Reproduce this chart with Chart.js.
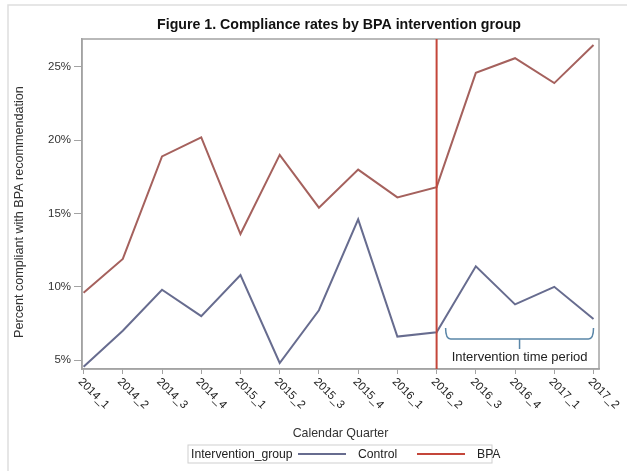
<!DOCTYPE html>
<html>
<head>
<meta charset="utf-8">
<title>Figure 1. Compliance rates by BPA intervention group</title>
<script src="https://cdn.jsdelivr.net/npm/chart.js@4.4.1/dist/chart.umd.min.js"></script>
<style>
    html, body { margin: 0; padding: 0; background: #fff; }
    #chart { display: block; }
</style>
</head>
<body>
<canvas id="chart" width="627" height="471"></canvas>
<script>
// values (percent compliant)
var quarters = ["2014_1", "2014_2", "2014_3", "2014_4", "2015_1", "2015_2", "2015_3", "2015_4", "2016_1", "2016_2", "2016_3", "2016_4", "2017_1", "2017_2"];
var controlRates = [4.55, 7.0, 9.8, 8.0, 10.8, 4.8, 8.4, 14.6, 6.6, 6.9, 11.4, 8.8, 10.0, 7.8];
var bpaRates = [9.6, 11.9, 18.9, 20.2, 13.6, 19.0, 15.4, 18.0, 16.1, 16.8, 24.6, 25.6, 23.9, 26.5];
var yTicks = [5, 10, 15, 20, 25];
var interventionStart = "2016_2";
var seriesNames = ["Control", "BPA"];

var FONT = "'Liberation Sans', Arial, sans-serif";
var controlColor = "#676c8f";
var bpaColor = "#a5615d";
var markerColor = "#c4463a";
var bracketColor = "#5a86a8";

function toPoints(values) {
    return values.map(function (v, i) { return { x: i, y: v }; });
}

// titles, rotated quarter labels, frame, intervention marker and legend
var figurePlugin = {
    id: "figurePlugin",
    beforeDraw: function (chart) {
        var ctx = chart.ctx;
        ctx.save();
        ctx.fillStyle = "#fff";
        ctx.fillRect(0, 0, chart.width, chart.height);
        ctx.strokeStyle = "#dedede";
        ctx.lineWidth = 1.5;
        ctx.strokeRect(8, 5, chart.width + 10, chart.height + 10);
        ctx.restore();
    },
    afterDraw: function (chart) {
        var ctx = chart.ctx;
        var area = chart.chartArea;
        var xs = chart.scales.x;
        ctx.save();

        // plot frame
        ctx.strokeStyle = "#a3a3a3";
        ctx.lineWidth = 1.5;
        ctx.strokeRect(area.left, area.top, area.right - area.left, area.bottom - area.top);

        // intervention start line
        var xi = xs.getPixelForValue(quarters.indexOf(interventionStart));
        ctx.strokeStyle = markerColor;
        ctx.lineWidth = 2;
        ctx.beginPath();
        ctx.moveTo(xi, area.top);
        ctx.lineTo(xi, area.bottom);
        ctx.stroke();

        // bracket over the intervention period
        var bx0 = xi + 9;
        var bx1 = xs.getPixelForValue(quarters.length - 1);
        var by = area.bottom - 30;
        var bmid = (bx0 + bx1) / 2;
        ctx.strokeStyle = bracketColor;
        ctx.lineWidth = 1.5;
        ctx.beginPath();
        ctx.moveTo(bx0, by - 11);
        ctx.quadraticCurveTo(bx0, by, bx0 + 5, by);
        ctx.lineTo(bx1 - 5, by);
        ctx.quadraticCurveTo(bx1, by, bx1, by - 11);
        ctx.moveTo(bmid, by);
        ctx.lineTo(bmid, by + 10);
        ctx.stroke();
        ctx.fillStyle = "#222";
        ctx.font = "13px " + FONT;
        ctx.textAlign = "center";
        ctx.textBaseline = "middle";
        ctx.fillText("Intervention time period", bmid, area.bottom - 12);

        // chart title
        ctx.fillStyle = "#111";
        ctx.font = "bold 14.2px " + FONT;
        ctx.fillText("Figure 1. Compliance rates by BPA intervention group", 339, 25);

        // y axis title
        ctx.fillStyle = "#333";
        ctx.font = "12.6px " + FONT;
        ctx.save();
        ctx.translate(20, (area.top + area.bottom) / 2 + 8);
        ctx.rotate(-Math.PI / 2);
        ctx.fillText("Percent compliant with BPA recommendation", 0, 0);
        ctx.restore();

        // x tick labels, turned 45 degrees
        ctx.fillStyle = "#222";
        ctx.font = "11.5px " + FONT;
        ctx.textAlign = "left";
        for (var i = 0; i < quarters.length; i++) {
            var tx = xs.getPixelForValue(i);
            ctx.save();
            ctx.translate(tx - 3.5, area.bottom + 11);
            ctx.rotate(Math.PI / 4);
            ctx.fillText(quarters[i], 0, 0);
            ctx.restore();
        }

        // x axis title
        ctx.fillStyle = "#333";
        ctx.font = "12.4px " + FONT;
        ctx.textAlign = "center";
        ctx.fillText("Calendar Quarter", (area.left + area.right) / 2, 434);

        // legend
        var lx = 188, ly = 445;
        ctx.strokeStyle = "#cfcfcf";
        ctx.lineWidth = 1;
        ctx.strokeRect(lx, ly, 304, 18);
        ctx.fillStyle = "#222";
        ctx.font = "12.2px " + FONT;
        ctx.textAlign = "left";
        ctx.fillText("Intervention_group", 191, ly + 9.5);
        var colors = [controlColor, markerColor];
        var startX = [298, 417];
        for (var k = 0; k < seriesNames.length; k++) {
            ctx.strokeStyle = colors[k];
            ctx.lineWidth = 2;
            ctx.beginPath();
            ctx.moveTo(startX[k], ly + 9);
            ctx.lineTo(startX[k] + 48, ly + 9);
            ctx.stroke();
            ctx.fillText(seriesNames[k], startX[k] + 60, ly + 9.5);
        }
        ctx.restore();
    }
};

new Chart("chart", {
    type: "line",
    data: {
        datasets: [{
            label: seriesNames[0],
            data: toPoints(controlRates),
            borderColor: controlColor,
            borderWidth: 2,
            pointRadius: 0,
            tension: 0
        }, {
            label: seriesNames[1],
            data: toPoints(bpaRates),
            borderColor: bpaColor,
            borderWidth: 2,
            pointRadius: 0,
            tension: 0
        }]
    },
    options: {
        responsive: false,
        animation: false,
        layout: { padding: { top: 39, right: 28, left: 0, bottom: 0 } },
        plugins: {
            legend: { display: false },
            title: { display: false },
            tooltip: { enabled: false }
        },
        scales: {
            x: {
                type: "linear",
                min: -0.04,
                max: 13.14,
                afterBuildTicks: function (axis) {
                    axis.ticks = quarters.map(function (q, i) { return { value: i }; });
                },
                afterFit: function (axis) { axis.height = 102; },
                ticks: { display: false },
                grid: { drawOnChartArea: false, drawTicks: true, tickLength: 5, color: "#a3a3a3" },
                border: { color: "#a3a3a3", width: 1.5 }
            },
            y: {
                type: "linear",
                min: 4.39,
                max: 26.91,
                afterBuildTicks: function (axis) {
                    axis.ticks = yTicks.map(function (v) { return { value: v }; });
                },
                afterFit: function (axis) { axis.width = 82; },
                ticks: {
                    callback: function (v) { return v + "%"; },
                    font: { family: FONT, size: 11.5 },
                    color: "#333",
                    padding: 3
                },
                grid: { drawOnChartArea: false, drawTicks: true, tickLength: 8, color: "#a3a3a3" },
                border: { color: "#a3a3a3", width: 1.5 }
            }
        }
    },
    plugins: [figurePlugin]
});
</script>
</body>
</html>
